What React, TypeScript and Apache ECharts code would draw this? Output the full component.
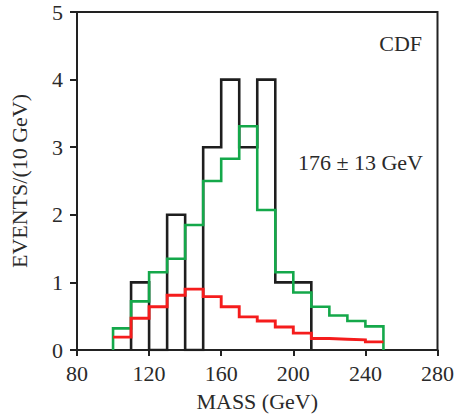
import React, { useEffect, useRef } from "react";
import * as echarts from "echarts";

// Histogram bin width (GeV) and bin contents
const binWidth = 10;
const dataStart = 110;
const dataCounts = [1, 0, 2, 0, 3, 4, 3, 4, 1, 1];
const fitStart = 100;
const fitTotal = [0.32, 0.72, 1.15, 1.35, 1.85, 2.5, 2.83, 3.31, 2.07, 1.15, 0.85, 0.64, 0.51, 0.43, 0.35];
const bgStart = 100;
const background = [0.19, 0.47, 0.64, 0.81, 0.9, 0.79, 0.64, 0.49, 0.43, 0.34, 0.25, 0.17, 0.16, 0.15, 0.12];

const xTicks = [80, 120, 160, 200, 240, 280];
const yTicks = [0, 1, 2, 3, 4, 5];
const labelCDF = "CDF";
const labelMass = "176 ± 13 GeV";

function stepData(start: number, vals: number[], closeEnds: boolean) {
  const pts: number[][] = [];
  if (closeEnds) pts.push([start, 0]);
  vals.forEach((v, i) => pts.push([start + i * binWidth, v]));
  pts.push([start + vals.length * binWidth, closeEnds ? 0 : vals[vals.length - 1]]);
  return pts;
}

const FONT = "Liberation Serif";

export default function App() {
  const ref = useRef<HTMLDivElement>(null);
  useEffect(() => {
    const chart = echarts.init(ref.current!, null, { renderer: "svg" });
    const line = (name: string, data: number[][], color: string, z: number, width: number) => ({
      name,
      type: "line",
      step: "end",
      data,
      symbol: "none",
      z,
      lineStyle: { color, width, join: "miter" },
    });
    chart.setOption({
      animation: false,
      backgroundColor: "#ffffff",
      grid: {
        left: 73,
        right: 18,
        top: 12,
        bottom: 70,
        show: true,
        borderColor: "#222",
        borderWidth: 2,
      },
      xAxis: {
        type: "value",
        min: xTicks[0],
        max: xTicks[xTicks.length - 1],
        interval: 40,
        name: "MASS (GeV)",
        nameLocation: "middle",
        nameGap: 40,
        nameTextStyle: { fontFamily: FONT, fontSize: 22, color: "#2a2a2a" },
        axisLine: { lineStyle: { color: "#222", width: 2 } },
        axisTick: { show: true, length: 6, lineStyle: { color: "#222", width: 2 } },
        axisLabel: { fontFamily: FONT, fontSize: 22, color: "#2a2a2a", margin: 12 },
        splitLine: { show: false },
      },
      yAxis: {
        type: "value",
        min: yTicks[0],
        max: yTicks[yTicks.length - 1],
        interval: 1,
        name: "EVENTS/(10 GeV)",
        nameLocation: "middle",
        nameGap: 47,
        nameTextStyle: { fontFamily: FONT, fontSize: 22, color: "#2a2a2a" },
        axisLine: { lineStyle: { color: "#222", width: 2 } },
        axisTick: { show: true, length: 7, lineStyle: { color: "#222", width: 2 } },
        axisLabel: { fontFamily: FONT, fontSize: 22, color: "#2a2a2a", margin: 14 },
        splitLine: { show: false },
      },
      graphic: [
        {
          type: "text",
          right: 35,
          top: 32,
          style: { text: labelCDF, font: `22px '${FONT}'`, fill: "#2a2a2a" },
        },
        {
          type: "text",
          right: 34,
          top: 151,
          style: { text: labelMass, font: `22px '${FONT}'`, fill: "#2a2a2a" },
        },
      ],
      series: [
        line("data", stepData(dataStart, dataCounts, true), "#1e1e1e", 2, 2.6),
        line("total", stepData(fitStart, fitTotal, true), "#14a84a", 3, 2.6),
        line("background", stepData(bgStart, background, false), "#f51c1c", 4, 2.9),
      ],
    });
    return () => chart.dispose();
  }, []);
  return (
    <div
      ref={ref}
      style={{ position: "fixed", left: 0, top: 0, width: 457, height: 420 }}
    />
  );
}
